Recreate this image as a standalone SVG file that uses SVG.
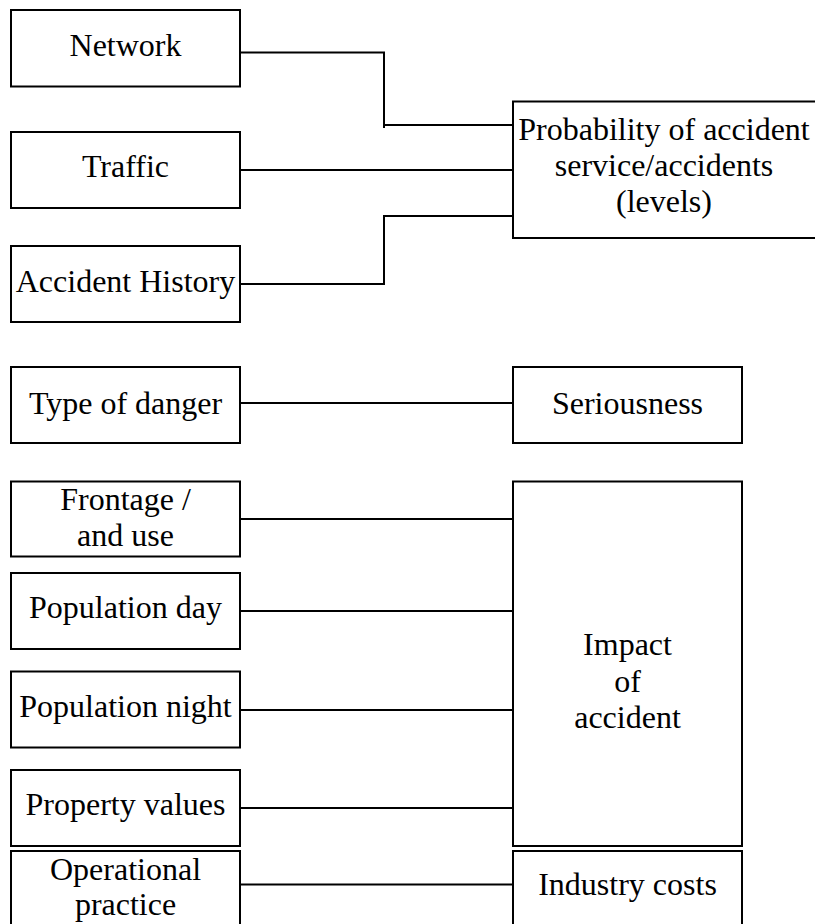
<svg xmlns="http://www.w3.org/2000/svg" width="815" height="924" viewBox="0 0 815 924">
<style>
.box{fill:#fff;stroke:#000;stroke-width:2}
.t{font-family:"Liberation Serif","Times New Roman",serif;font-size:32px;fill:#000;text-anchor:middle}
.c{fill:none;stroke:#000;stroke-width:2}
</style>
<rect width="815" height="924" fill="#fff"/>
<g id="connectors">
<polyline class="c" points="240,52.5 384,52.5 384,128"/>
<line class="c" x1="384" y1="125" x2="513" y2="125"/>
<line class="c" x1="240" y1="170" x2="513" y2="170"/>
<polyline class="c" points="240,284 384,284 384,216 513,216"/>
<line class="c" x1="240" y1="403" x2="513" y2="403"/>
<line class="c" x1="240" y1="519" x2="513" y2="519"/>
<line class="c" x1="240" y1="611" x2="513" y2="611"/>
<line class="c" x1="240" y1="710" x2="513" y2="710"/>
<line class="c" x1="240" y1="808" x2="513" y2="808"/>
<line class="c" x1="240" y1="884.5" x2="513" y2="884.5"/>
</g>
<g id="network"><rect class="box" x="11" y="10" width="229" height="76.5"/><text class="t" x="125.5" y="56">Network</text></g>
<g id="traffic"><rect class="box" x="11" y="132" width="229" height="76"/><text class="t" x="125.5" y="177">Traffic</text></g>
<g id="accident-history"><rect class="box" x="11" y="246" width="229" height="76"/><text class="t" x="125.5" y="292">Accident History</text></g>
<g id="probability"><rect class="box" x="513" y="101.5" width="304" height="136.5"/><text class="t" x="664" y="140">Probability of accident</text><text class="t" x="664" y="176">service/accidents</text><text class="t" x="664" y="212">(levels)</text></g>
<g id="type-of-danger"><rect class="box" x="11" y="367" width="229" height="76"/><text class="t" x="125.5" y="414">Type of danger</text></g>
<g id="seriousness"><rect class="box" x="513" y="367" width="229" height="76"/><text class="t" x="627.5" y="414">Seriousness</text></g>
<g id="frontage"><rect class="box" x="11" y="481.5" width="229" height="75"/><text class="t" x="125.5" y="510">Frontage /</text><text class="t" x="125.5" y="546">and use</text></g>
<g id="population-day"><rect class="box" x="11" y="573" width="229" height="76"/><text class="t" x="125.5" y="618">Population day</text></g>
<g id="population-night"><rect class="box" x="11" y="671.5" width="229" height="76"/><text class="t" x="125.5" y="717">Population night</text></g>
<g id="property-values"><rect class="box" x="11" y="770" width="229" height="76"/><text class="t" x="125.5" y="815">Property values</text></g>
<g id="impact"><rect class="box" x="513" y="481.5" width="229" height="364.5"/><text class="t" x="627.5" y="655">Impact</text><text class="t" x="627.5" y="691.5">of</text><text class="t" x="627.5" y="728">accident</text></g>
<g id="operational-practice"><rect class="box" x="11" y="851" width="229" height="80"/><text class="t" x="125.5" y="880">Operational</text><text class="t" x="125.5" y="915">practice</text></g>
<g id="industry-costs"><rect class="box" x="513" y="851" width="229" height="80"/><text class="t" x="627.5" y="895">Industry costs</text></g>
</svg>
